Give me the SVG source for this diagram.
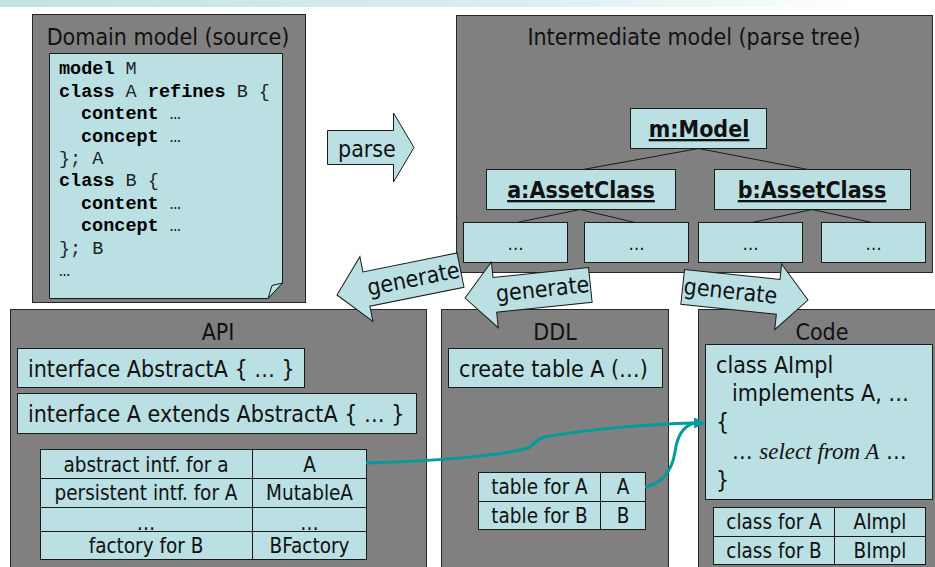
<svg xmlns="http://www.w3.org/2000/svg" width="935" height="567" viewBox="0 0 935 567">
  <defs>
    <linearGradient id="topbar" x1="0" y1="0" x2="935" y2="0" gradientUnits="userSpaceOnUse">
      <stop offset="0" stop-color="#c3e2e5"/>
      <stop offset="0.55" stop-color="#d9eeef"/>
      <stop offset="0.92" stop-color="#ffffff"/>
    </linearGradient>
    <marker id="tealHead" viewBox="0 0 12 11" refX="0" refY="5.5" markerWidth="12" markerHeight="11" markerUnits="userSpaceOnUse" orient="auto">
      <path d="M0,0 L12,5.5 L0,11 Z" fill="#009b9b"/>
    </marker>
    <path id="arrowLeft" d="M0,0 L30,-33 L30,-17.5 L126,-17.5 L126,17.5 L30,17.5 L30,33 Z"/>
    <path id="arrowRight" d="M0,0 L-30,-33 L-30,-17.5 L-126,-17.5 L-126,17.5 L-30,17.5 L-30,33 Z"/>
  </defs>
  <style>
    .panel { fill: #808080; stroke: #262626; stroke-width: 1; }
    .box { fill: #bae0e3; stroke: #1a1a1a; stroke-width: 1; }
    .fat { fill: #bae0e3; stroke: #1a1a1a; stroke-width: 1; }
    .tree { stroke: #1a1a1a; stroke-width: 1; fill: none; }
    .cell { stroke: #1a1a1a; stroke-width: 1; }
    .t { font-family: "DejaVu Sans Condensed", "Liberation Sans", sans-serif; fill: #111; }
    .title { font-size: 23px; text-anchor: middle; }
    .big { font-size: 23px; }
    .tab { font-size: 20.5px; text-anchor: middle; }
    .obj { font-size: 23px; font-weight: bold; text-anchor: middle; text-decoration: underline; }
    .dots { font-size: 18px; text-anchor: middle; }
    .mono { font-family: "Liberation Mono", "Courier New", monospace; font-size: 18.5px; fill: #222; }
    .kw { font-weight: bold; fill: #000; }
    .ital { font-family: "Liberation Serif", "Times New Roman", serif; font-style: italic; }
    .link { fill: none; stroke: #009b9b; stroke-width: 3; }
  </style>

  <!-- decorative header strip -->
  <rect x="0" y="0" width="935" height="7" fill="url(#topbar)"/>

  <!-- source model -->
  <g id="domain-model">
    <rect class="panel" x="32.5" y="14.5" width="273" height="288"/>
    <text class="t title" x="168" y="45">Domain model (source)</text>
    <path class="box" d="M49.5,53.5 H282.5 V283 L268,298.5 H49.5 Z"/>
    <path class="box" d="M282.5,283 L272,285.5 L268,298.5 Z"/>
    <text class="mono" x="59" y="74"><tspan class="kw">model</tspan> M</text>
    <text class="mono" x="59" y="96.5"><tspan class="kw">class</tspan> A <tspan class="kw">refines</tspan> B {</text>
    <text class="mono" x="81" y="119"><tspan class="kw">content</tspan> …</text>
    <text class="mono" x="81" y="141.5"><tspan class="kw">concept</tspan> …</text>
    <text class="mono" x="59" y="164">}; A</text>
    <text class="mono" x="59" y="186"><tspan class="kw">class</tspan> B {</text>
    <text class="mono" x="81" y="208.5"><tspan class="kw">content</tspan> …</text>
    <text class="mono" x="81" y="231"><tspan class="kw">concept</tspan> …</text>
    <text class="mono" x="59" y="253.5">}; B</text>
    <text class="mono" x="59" y="276">…</text>
  </g>

  <!-- parse step -->
  <g id="parse-arrow">
    <polygon class="fat" points="327.5,130.5 393.5,130.5 393.5,113 414,147.5 393.5,182 393.5,164.5 327.5,164.5"/>
    <text class="t big" x="338" y="157">parse</text>
  </g>

  <!-- parse tree -->
  <g id="intermediate-model">
    <rect class="panel" x="456.5" y="15.5" width="476" height="257"/>
    <text class="t title" x="694" y="45">Intermediate model (parse tree)</text>
  </g>

  <g id="tree-edges">
    <path class="tree" d="M698.5,148.5 L583,169.5 M698.5,148.5 L808,169.5"/>
    <path class="tree" d="M580,209.5 L517,222.5 M580,209.5 L635,222.5"/>
    <path class="tree" d="M812,209.5 L752,222.5 M812,209.5 L872,222.5"/>
  </g>

  <g id="m-model">
    <rect class="box" x="630.5" y="108.5" width="136" height="40"/>
    <text class="t obj" x="699" y="137">m:Model</text>
  </g>
  <g id="a-assetclass">
    <rect class="box" x="486.5" y="169.5" width="189" height="40"/>
    <text class="t obj" x="581" y="198">a:AssetClass</text>
  </g>
  <g id="b-assetclass">
    <rect class="box" x="714.5" y="169.5" width="196" height="40"/>
    <text class="t obj" x="812" y="198">b:AssetClass</text>
  </g>
  <g id="leaf-1">
    <rect class="box" x="463.5" y="222.5" width="104" height="40"/>
    <text class="t dots" x="515.5" y="250">…</text>
  </g>
  <g id="leaf-2">
    <rect class="box" x="584.5" y="222.5" width="104" height="40"/>
    <text class="t dots" x="636.5" y="250">…</text>
  </g>
  <g id="leaf-3">
    <rect class="box" x="698.5" y="222.5" width="104" height="40"/>
    <text class="t dots" x="750.5" y="250">…</text>
  </g>
  <g id="leaf-4">
    <rect class="box" x="821.5" y="222.5" width="104" height="40"/>
    <text class="t dots" x="873.5" y="250">…</text>
  </g>

  <!-- generated API -->
  <g id="api">
    <rect class="panel" x="10.5" y="309.5" width="416" height="270"/>
    <text class="t title" x="218" y="340">API</text>
    <rect class="box" x="17.5" y="348.5" width="287" height="39"/>
    <text class="t big" x="28" y="377">interface AbstractA { … }</text>
    <rect class="box" x="17.5" y="393.5" width="399" height="40"/>
    <text class="t big" x="28" y="422">interface A extends AbstractA { … }</text>
    <rect class="box" x="40.5" y="449.5" width="326" height="110"/>
    <path class="cell" d="M40.5,478.5 H366.5 M40.5,507.5 H366.5 M40.5,531.5 H366.5 M252.5,449.5 V559.5"/>
    <text class="t tab" x="146" y="472">abstract intf. for a</text>
    <text class="t tab" x="309.5" y="472">A</text>
    <text class="t tab" x="146" y="500">persistent intf. for A</text>
    <text class="t tab" x="309.5" y="500">MutableA</text>
    <text class="t tab" x="146" y="530">…</text>
    <text class="t tab" x="309.5" y="530">…</text>
    <path class="cell" d="M40.5,531.5 H366.5"/>
    <text class="t tab" x="146" y="553">factory for B</text>
    <text class="t tab" x="309.5" y="553">BFactory</text>
  </g>

  <!-- generated DDL -->
  <g id="ddl">
    <rect class="panel" x="441.5" y="309.5" width="227" height="270"/>
    <text class="t title" x="555" y="340">DDL</text>
    <rect class="box" x="448.5" y="348.5" width="214" height="39"/>
    <text class="t big" x="459" y="377">create table A (…)</text>
    <rect class="box" x="478.5" y="472.5" width="167" height="57"/>
    <path class="cell" d="M478.5,501.5 H645.5 M600.5,472.5 V529.5"/>
    <text class="t tab" x="539.5" y="494">table for A</text>
    <text class="t tab" x="623" y="494">A</text>
    <text class="t tab" x="539.5" y="523">table for B</text>
    <text class="t tab" x="623" y="523">B</text>
  </g>

  <!-- generated code -->
  <g id="code">
    <rect class="panel" x="698.5" y="309.5" width="250" height="270"/>
    <text class="t title" x="822" y="340">Code</text>
    <rect class="box" x="705.5" y="344.5" width="227" height="155"/>
    <text class="t big" x="716" y="373">class AImpl</text>
    <text class="t big" x="732" y="401">implements A, …</text>
    <text class="t big" x="716" y="430">{</text>
    <text class="t big" x="732" y="459">… <tspan class="ital">select from A</tspan> …</text>
    <text class="t big" x="716" y="488">}</text>
    <rect class="box" x="713.5" y="507.5" width="212" height="57"/>
    <path class="cell" d="M713.5,536.5 H925.5 M834.5,507.5 V564.5"/>
    <text class="t tab" x="774" y="529">class for A</text>
    <text class="t tab" x="880" y="529">AImpl</text>
    <text class="t tab" x="774" y="558">class for B</text>
    <text class="t tab" x="880" y="558">BImpl</text>
  </g>

  <!-- generation steps -->
  <g id="generate-api">
    <use href="#arrowLeft" class="fat" transform="translate(337,295) rotate(-11.4)"/>
    <text class="t big" text-anchor="middle" transform="translate(337,295) rotate(-11.4)" x="78" y="7">generate</text>
  </g>
  <g id="generate-ddl">
    <use href="#arrowLeft" class="fat" transform="translate(465,298) rotate(-6)"/>
    <text class="t big" text-anchor="middle" transform="translate(465,298) rotate(-6)" x="78" y="7">generate</text>
  </g>
  <g id="generate-code">
    <use href="#arrowRight" class="fat" transform="translate(808,300) rotate(6)"/>
    <text class="t big" text-anchor="middle" transform="translate(808,300) rotate(6)" x="-78" y="7">generate</text>
  </g>

  <!-- traceability links -->
  <g id="connectors">
    <path class="link" d="M366,463 C440,461 505,455 528,448 C536,445 533,440 545,437 C590,429 650,424 694,423" marker-end="url(#tealHead)"/>
    <path class="link" d="M645,487 C664,483 672,470 675,452 C677,436 684,426 694,423"/>
  </g>
</svg>
